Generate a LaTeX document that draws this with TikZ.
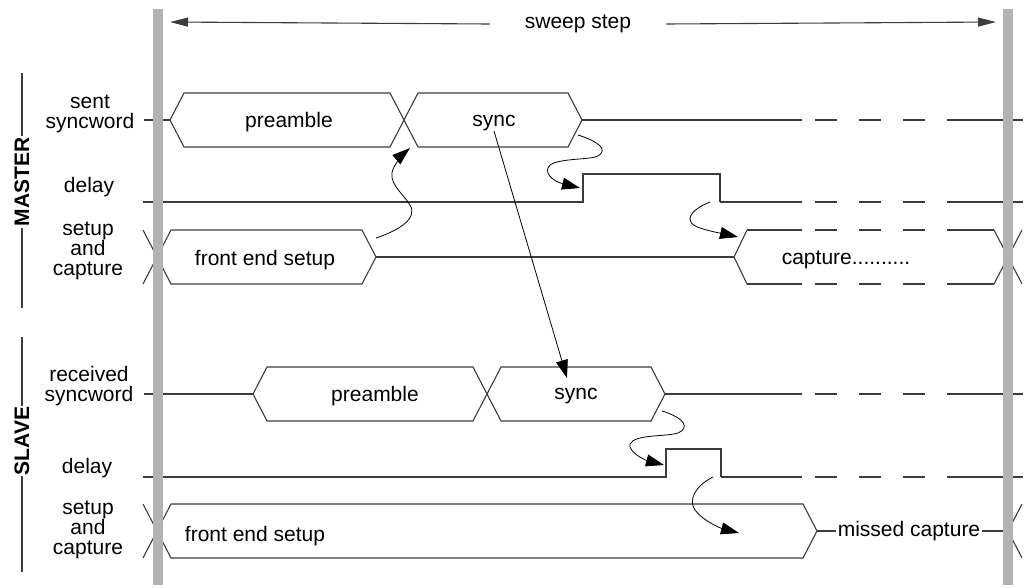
\documentclass[tikz,border=0pt]{standalone}
\usepackage{fontspec}
\setmainfont{Liberation Sans}
\usetikzlibrary{arrows.meta}
\definecolor{bargray}{HTML}{B3B3B3}
\definecolor{wire}{HTML}{3C3C3C}
\newcommand{\hexsig}[3]{\draw[sig] (#1,#3) -- ({#1+14},{#3-27}) -- ({#2-14},{#3-27}) -- (#2,#3) -- ({#2-14},{#3+27}) -- ({#1+14},{#3+27}) -- cycle;}
\newcommand{\dashrun}[3]{\draw[sig] (#1,#3) -- (802,#3); \foreach \dx in {815,859,903} \draw[sig] (\dx,#3) -- ++(22,0); \draw[sig] (947,#3) -- (#2,#3);}
\begin{document}
\begin{tikzpicture}[x=1pt,y=-1pt,
 sig/.style={draw=wire,line width=1.1pt},
 txt/.style={inner sep=0pt,font=\fontsize{21}{20}\selectfont},
 lbl/.style={txt,align=center},
 grp/.style={inner sep=1pt,font=\fontsize{21}{20}\selectfont\bfseries,rotate=90},
 evt/.style={draw=black,line width=0.8pt,-{Triangle[length=18pt,width=12pt]}},
 bar/.style={draw=bargray,line width=10pt}]
\useasboundingbox (0,0) rectangle (1031,587);

% sweep step
\node[txt,inner xsep=35pt] (sweep) at (578,24) {sweep step};
\coordinate (swl) at (170,22);
\coordinate (swr) at (996,22);
\draw[sig,-{Triangle[length=18pt,width=9pt]}] (sweep.west) -- (swl);
\draw[sig,-{Triangle[length=18pt,width=9pt]}] (sweep.east) -- (swr);

% groups and rows
\node[grp] (master) at (22,182) {MASTER};
\node[grp] (slave) at (22,441) {SLAVE};
\draw[sig] (22,73) -- (master.east) (master.west) -- (22,308);
\draw[sig] (22,337) -- (slave.east) (slave.west) -- (22,572);
\node[lbl] (msent) at (90,114) {sent\\syncword};
\node[lbl] (mdel) at (89,187) {delay};
\node[lbl] (mset) at (88,251) {setup\\and\\capture};
\node[lbl] (srec) at (89,386) {received\\syncword};
\node[lbl] (sdel) at (87,468) {delay};
\node[lbl] (sset) at (88,530) {setup\\and\\capture};

% master
\draw[sig] (144,120) -- (170,120);
\hexsig{170}{404}{120}
\hexsig{404}{582}{120}
\dashrun{582}{1023}{120}
\draw[sig] (143,202) -- (583,202) -- (583,174) -- (720,174) -- (720,202);
\dashrun{720}{1023}{202}
\draw[sig] (143,230) -- (157,257) -- (143,284);
\hexsig{157}{376}{257}
\draw[sig] (376,257) -- (734,257);
\draw[sig] (747,230) -- (734,257) -- (747,284) (994,230) -- (1008,257) -- (994,284);
\dashrun{747}{994}{230}
\dashrun{747}{994}{284}
\draw[sig] (1022,230) -- (1008,257) -- (1022,284);
\node[txt] (mpre) at (289,122) {preamble};
\node[txt] (msync) at (494,123) {sync};
\node[txt] (mfe) at (265,260) {front end setup};
\node[txt] (mcap) at (846,260) {capture..........};

% slave
\draw[sig] (144,394) -- (253,394);
\hexsig{253}{487}{394}
\hexsig{487}{665}{394}
\dashrun{665}{1023}{394}
\draw[sig] (143,477) -- (666,477) -- (666,449) -- (721,449) -- (721,477);
\dashrun{721}{1023}{477}
\draw[sig] (143,504) -- (157,531) -- (143,558);
\hexsig{157}{817}{531}
\node[txt,inner xsep=1.5pt] (miss) at (909,531) {missed capture};
\draw[sig] (817,531) -- (miss.west) (miss.east) -- (1008,531);
\draw[sig] (1022,504) -- (1008,531) -- (1022,558);
\node[txt] (spre) at (375,396) {preamble};
\node[txt] (ssync) at (576,396) {sync};
\node[txt] (sfe) at (255,536) {front end setup};

% events
\coordinate (fe1) at (376,238);
\coordinate (pre1) at (410,148);
\coordinate (sy1) at (578,135);
\coordinate (up1) at (580,188);
\coordinate (dn1) at (710,202);
\coordinate (cap1) at (738,237);
\coordinate (sy2) at (567,378);
\coordinate (sy3) at (662,411);
\coordinate (up2) at (664,465);
\coordinate (dn2) at (713,477);
\coordinate (cap2) at (739,533);
\draw[evt] (fe1) .. controls (400,230) and (418,218) .. (410,205) .. controls (402,192) and (386,182) .. (394,167) .. controls (398,160) and (403,154) .. (pre1);
\draw[evt] (sy1) .. controls (600,142) and (608,150) .. (598,156) .. controls (590,160) and (560,158) .. (550,165) .. controls (543,172) and (552,181) .. (up1);
\draw[evt] (dn1) .. controls (690,210) and (682,222) .. (700,228) .. controls (712,232) and (725,234) .. (cap1);
\draw[evt] (msync.south) -- (sy2);
\draw[evt] (sy3) .. controls (685,418) and (690,428) .. (678,433) .. controls (665,437) and (635,434) .. (630,444) .. controls (628,452) and (645,460) .. (up2);
\draw[evt] (dn2) .. controls (695,486) and (688,500) .. (695,510) .. controls (702,520) and (720,528) .. (cap2);

% sweep bounds
\draw[bar] (158,9) -- (158,585);
\draw[bar] (1008,9) -- (1008,585);
\end{tikzpicture}
\end{document}
